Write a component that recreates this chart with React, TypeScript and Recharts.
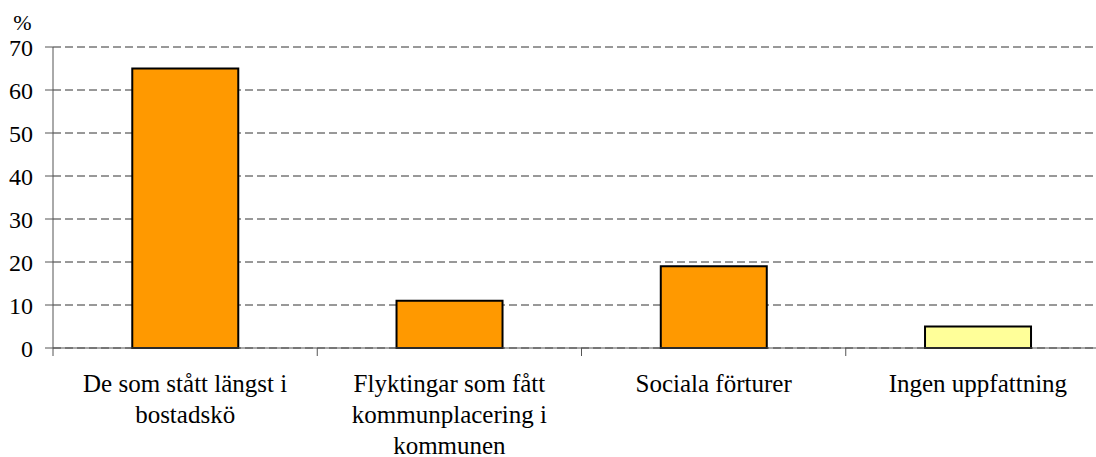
import React from "react";
import { BarChart, Bar, XAxis, YAxis, CartesianGrid, Cell } from "recharts";

// Kategorier (radbrytning som i originalet)
const categories = [
  "De som stått längst i\nbostadskö",
  "Flyktingar som fått\nkommunplacering i\nkommunen",
  "Sociala förturer",
  "Ingen uppfattning",
];
const values = [65, 11, 19, 5];
const yTicks = [0, 10, 20, 30, 40, 50, 60, 70];

const ORANGE = "#FF9900";
const YELLOW = "#FFFF99";
const barColors = [ORANGE, ORANGE, ORANGE, YELLOW];

const data = categories.map((name, i) => ({ name, value: values[i] }));

const FONT = "Liberation Serif";
const TICK = 8;

// Kategorinamn + korta streck vid kategorigränserna
const CategoryTick = (props: any) => {
  const { x, y, payload } = props;
  const lines = String(payload.value).split("\n");
  const half = Number(payload.offset) || 0;
  const left = x - half;
  return (
    <g>
      {half > 0 && <line x1={left} x2={left} y1={y - TICK} y2={y} stroke="#555" />}
      <text x={x} y={y} textAnchor="middle" fontFamily={FONT} fontSize={25} fill="#000">
        {lines.map((l, i) => (
          <tspan key={i} x={x} dy={i === 0 ? 36 : 31}>
            {l}
          </tspan>
        ))}
      </text>
    </g>
  );
};

export default function App() {
  return (
    <div
      style={{
        position: "absolute",
        left: 0,
        top: 0,
        width: 1096,
        height: 457,
        overflow: "hidden",
        background: "#fff",
        fontFamily: FONT,
      }}
    >
      <BarChart
        width={1110}
        height={457}
        data={data}
        margin={{ top: 47, right: 0, left: 0, bottom: 0 }}
        barCategoryGap="30%"
      >
        <CartesianGrid vertical={false} stroke="#333" strokeDasharray="8 4" />
        <XAxis
          dataKey="name"
          height={109}
          interval={0}
          tickSize={TICK}
          tickMargin={0}
          tickLine={false}
          axisLine={{ stroke: "#555", strokeWidth: 1 }}
          tick={<CategoryTick />}
        />
        <YAxis
          domain={[0, 70]}
          ticks={yTicks}
          width={53}
          tickSize={TICK}
          tickMargin={12}
          axisLine={{ stroke: "#555", strokeWidth: 1 }}
          tickLine={{ stroke: "#555", strokeWidth: 1 }}
          tick={{ fill: "#000", fontFamily: FONT, fontSize: 24 }}
          label={{ value: "%", position: "top", offset: 17, dx: -4, fill: "#000", fontFamily: FONT, fontSize: 22 }}
        />
        <Bar dataKey="value" stroke="#000" strokeWidth={2} isAnimationActive={false}>
          {data.map((d, i) => (
            <Cell key={d.name} fill={barColors[i]} />
          ))}
        </Bar>
      </BarChart>
    </div>
  );
}
